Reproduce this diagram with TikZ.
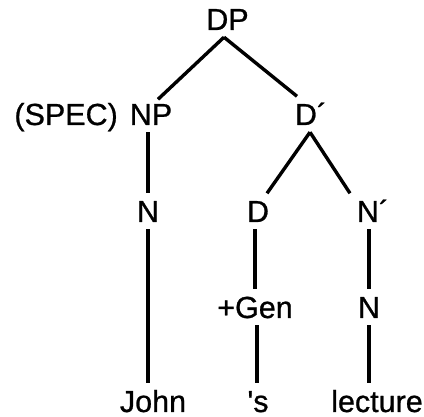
\documentclass[tikz,border=0pt]{standalone}
\usepackage{fontspec}
\newfontfamily\hv{Liberation Sans}[FakeBold=0.8]
\begin{document}
\begin{tikzpicture}[x=1pt,y=-1pt,
  lbl/.style={anchor=base,inner xsep=0pt,inner ysep=7pt,text height=21.5pt,text depth=0pt,font=\hv\fontsize{30.5}{34}\selectfont},
  edge/.style={line width=3.4pt}]
\useasboundingbox (0,0) rectangle (424,417);
\node[lbl] (dp) at (227.5,30) {DP};
\node[lbl] (np) at (151,125) {NP};
\node[lbl,anchor=base east] (spec) at (118,125) {(SPEC)};
\node[lbl] (dbar) at (311,125) {D´};
\node[lbl] (n1) at (148,222) {N};
\node[lbl] (d) at (258,222) {D};
\node[lbl] (nbar) at (373,222) {N´};
\node[lbl] (gen) at (255,318) {+Gen};
\node[lbl] (n2) at (369,318) {N};
\node[lbl] (john) at (153,412) {John};
\node[lbl] (s) at (258,412) {'s};
\node[lbl] (lect) at (377,412) {lecture};
\draw[edge] ([xshift=-3.5pt]dp.south) -- ([xshift=7pt,yshift=-3pt]np.north);
\draw[edge] ([xshift=-3.5pt]dp.south) -- ([xshift=-14pt]dbar.north);
\draw[edge] ([xshift=-1pt]dbar.south) -- ([xshift=9pt]d.north);
\draw[edge] ([xshift=-1pt]dbar.south) -- ([xshift=-23pt]nbar.north);
\draw[edge] ([xshift=-3pt]np.south) -- (n1.north);
\draw[edge] (n1.south) -- ([xshift=-5pt]john.north);
\draw[edge] ([xshift=-3pt]d.south) -- (gen.north);
\draw[edge] ([xshift=2pt]gen.south) -- ([xshift=-1pt]s.north);
\draw[edge] ([xshift=-4pt]nbar.south) -- (n2.north);
\draw[edge] (n2.south) -- ([xshift=-8pt]lect.north);
\end{tikzpicture}
\end{document}
